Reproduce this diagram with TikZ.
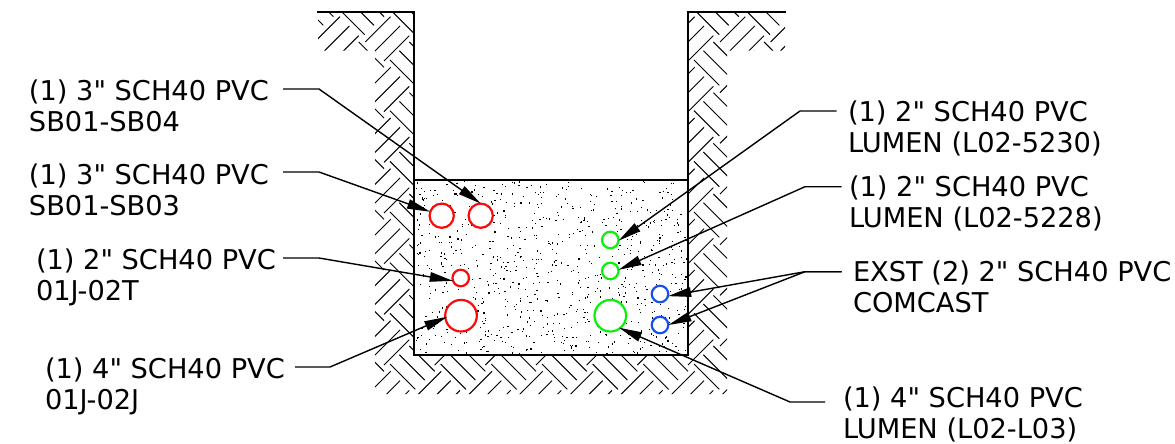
\documentclass[tikz,border=0pt]{standalone}
\usepackage{fontspec}
\setmainfont[Ligatures=TeXOff]{DejaVu Sans}
\usetikzlibrary{arrows.meta}
\definecolor{pipered}{RGB}{250,10,10}
\definecolor{pipegreen}{RGB}{10,240,10}
\definecolor{pipeblue}{RGB}{20,80,240}
\tikzset{
  pipe/.style={circle,draw,fill=white,line width=1.25pt,inner sep=0pt,outer sep=0pt},
  pipesmall/.style={pipe,minimum size=9.4pt},
  pipemid/.style={pipe,minimum size=13.8pt},
  pipebig/.style={pipe,minimum size=18pt},
  lbl/.style={anchor=north west,align=left,inner sep=0pt,outer sep=0pt,font=\fontsize{15.5}{17.7}\selectfont},
  leader/.style={line width=0.8pt,-{Triangle[length=13.2pt,width=5.4pt]}},
  hatchline/.style={line width=0.55pt},
  wall/.style={line width=1pt,line cap=rect}
}
\begin{document}
\begin{tikzpicture}[x=0.02cm,y=-0.02cm]
\useasboundingbox (0,0) rectangle (1175,443);
%Erdreich: Fischgraetmuster, Periode 50.67
\pgfmathsetmacro{\per}{50.67}
\begin{scope}
\clip (318,12) -- (414,12) -- (414,355) -- (688,355) -- (688,12) -- (785,12) -- (785,50.5) -- (727,50.5) -- (727,394) -- (375,394) -- (375,50.5) -- (318,50.5) -- cycle;
\foreach \i in {-1,...,9}{
\foreach \j in {-1,...,7}{
\begin{scope}[shift={(\i*\per,\j*\per)}]
\draw[hatchline] (358.7,42) -- ++(25.33,25.33);
\draw[hatchline] (348.7,50.7) -- ++(25.33,25.33);
\draw[hatchline] (339.3,60) -- ++(25.33,25.33);
\draw[hatchline] (365.3,42) -- ++(25.33,-25.33);
\draw[hatchline] (374.7,51.3) -- ++(25.33,-25.33);
\draw[hatchline] (384,61) -- ++(25.33,-25.33);
\end{scope}
}}
\end{scope}
%Beton: Punkte zufaellig
\pgfmathsetseed{4711}
\foreach \k in {1,...,850}{
\pgfmathsetmacro{\dotx}{415+rnd*272}
\pgfmathsetmacro{\doty}{181+rnd*173}
\fill (\dotx,\doty) rectangle ++(1.2,1.2);
}
%Graben
\draw[wall] (318,12) -- (414,12) -- (414,355) -- (688,355) -- (688,12) -- (785,12);
\draw[wall] (414,180) -- (688,180);
%Rohre
\node[pipemid,draw=pipered] (redA) at (480.7,215.7) {};
\node[pipemid,draw=pipered] (redB) at (441.7,215.7) {};
\node[pipesmall,draw=pipered] (redC) at (460.7,278) {};
\node[pipebig,draw=pipered] (redD) at (461,315.7) {};
\node[pipesmall,draw=pipegreen] (greenA) at (610.3,240) {};
\node[pipesmall,draw=pipegreen] (greenB) at (610.3,271) {};
\node[pipebig,draw=pipegreen] (greenC) at (610.3,315.7) {};
\node[pipesmall,draw=pipeblue] (blueA) at (660,294) {};
\node[pipesmall,draw=pipeblue] (blueB) at (660,325) {};
%Beschriftung
\node[lbl] (lblA) at (29,80) {(1) 3" SCH40 PVC\\SB01-SB04};
\node[lbl] (lblB) at (29,163.5) {(1) 3" SCH40 PVC\\SB01-SB03};
\node[lbl] (lblC) at (36,248.5) {(1) 2" SCH40 PVC\\01J-02T};
\node[lbl] (lblD) at (45,357.5) {(1) 4" SCH40 PVC\\01J-02J};
\node[lbl] (lblE) at (848,101) {(1) 2" SCH40 PVC\\LUMEN (L02-5230)};
\node[lbl] (lblF) at (849,176) {(1) 2" SCH40 PVC\\LUMEN (L02-5228)};
\node[lbl] (lblG) at (853,261) {EXST (2) 2" SCH40 PVC\\COMCAST};
\node[lbl] (lblH) at (843,386.5) {(1) 4" SCH40 PVC\\LUMEN (L02-L03)};
%Hinweislinien
\coordinate (startA) at (283,89);
\coordinate (kneeA) at (319,89);
\coordinate (startB) at (283,172);
\coordinate (kneeB) at (319,172);
\coordinate (startC) at (283,258);
\coordinate (kneeC) at (319,258);
\coordinate (startD) at (295,367);
\coordinate (kneeD) at (330,367);
\coordinate (startE) at (836.7,111);
\coordinate (kneeE) at (800,111);
\coordinate (startF) at (841.7,186.7);
\coordinate (kneeF) at (805,186.7);
\coordinate (startG) at (841.7,271.7);
\coordinate (kneeG) at (805,271.7);
\coordinate (startH) at (825,402);
\coordinate (kneeH) at (790,402);
\draw[leader] (startA) -- (kneeA) -- (redA.north);
\draw[leader] (startB) -- (kneeB) -- (redB.161);
\draw[leader] (startC) -- (kneeC) -- (redC.200);
\draw[leader,shorten >=-1.3pt] (startD) -- (kneeD) -- (redD.187);
\draw[leader] (startE) -- (kneeE) -- (greenA.355);
\draw[leader] (startF) -- (kneeF) -- (greenB.8);
\draw[leader] (startG) -- (kneeG) -- (blueA.345);
\draw[leader] (startG) -- (kneeG) -- (blueB.east);
\draw[leader,shorten >=-0.7pt] (startH) -- (kneeH) -- (greenC.308);
\end{tikzpicture}
\end{document}
